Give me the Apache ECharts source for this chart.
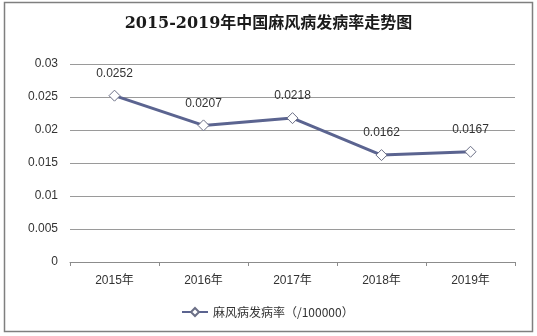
<!DOCTYPE html>
<html>
<head>
<meta charset="utf-8">
<script src="https://cdn.jsdelivr.net/npm/echarts@6/dist/echarts.min.js"></script>
<style>
  html, body { margin: 0; padding: 0; background: #fff; }
  #chart { width: 537px; height: 336px; }
</style>
</head>
<body>
<div id="chart"></div>
<script>
// Leprosy incidence in China, 2015-2019 (per 100,000)
const years = ['2015年', '2016年', '2017年', '2018年', '2019年'];
const incidence = [0.0252, 0.0207, 0.0218, 0.0162, 0.0167];
const seriesName = '麻风病发病率（/100000）';
const titleText = '2015-2019年中国麻风病发病率走势图';

const chart = echarts.init(document.getElementById('chart'), null, { renderer: 'canvas' });

chart.setOption({
  animation: false,
  backgroundColor: '#fff',
  title: {
    text: titleText,
    left: 'center',
    top: 11,
    textStyle: {
      fontFamily: '"DejaVu Serif", "Noto Sans CJK SC", serif',
      fontSize: 16,
      fontWeight: 'bold',
      color: '#1a1a1a'
    }
  },
  graphic: [{
    type: 'rect',
    shape: { x: 4.5, y: 2.5, width: 528, height: 329 },
    style: { fill: 'none', stroke: '#7f7f7f', lineWidth: 1.5 },
    silent: true
  }],
  grid: { left: 70, right: 22, top: 64, bottom: 74 },
  legend: {
    data: [seriesName],
    bottom: 13,
    left: 176,
    itemWidth: 26,
    itemHeight: 10,
    itemGap: 6,
    textStyle: { fontSize: 12, color: '#333', fontFamily: '"Noto Sans CJK SC", sans-serif' }
  },
  xAxis: {
    type: 'category',
    data: years,
    boundaryGap: true,
    axisLine: { show: true, lineStyle: { color: '#8c8c8c', width: 1 } },
    axisTick: { show: true, length: 4, inside: false, lineStyle: { color: '#8c8c8c' } },
    axisLabel: { color: '#333', fontSize: 12, margin: 13, fontFamily: '"Liberation Sans", "Noto Sans CJK SC", sans-serif' },
    splitLine: { show: false }
  },
  yAxis: {
    type: 'value',
    min: 0,
    max: 0.03,
    interval: 0.005,
    axisLine: { show: false },
    axisTick: { show: false },
    axisLabel: { color: '#333', fontSize: 12, margin: 12, fontFamily: '"Liberation Sans", sans-serif' },
    splitLine: { lineStyle: { color: '#9a9a9a', width: 1 } }
  },
  series: [{
    name: seriesName,
    type: 'line',
    data: incidence,
    symbol: 'diamond',
    symbolSize: 11,
    lineStyle: { color: '#5b6490', width: 3 },
    itemStyle: { color: '#fff', borderColor: '#6b6f86', borderWidth: 1 },
    label: {
      show: true,
      position: 'top',
      distance: 10,
      color: '#333',
      fontSize: 12,
      fontFamily: '"Liberation Sans", sans-serif',
      formatter: p => p.value.toFixed(4)
    }
  }]
});
</script>
</body>
</html>
